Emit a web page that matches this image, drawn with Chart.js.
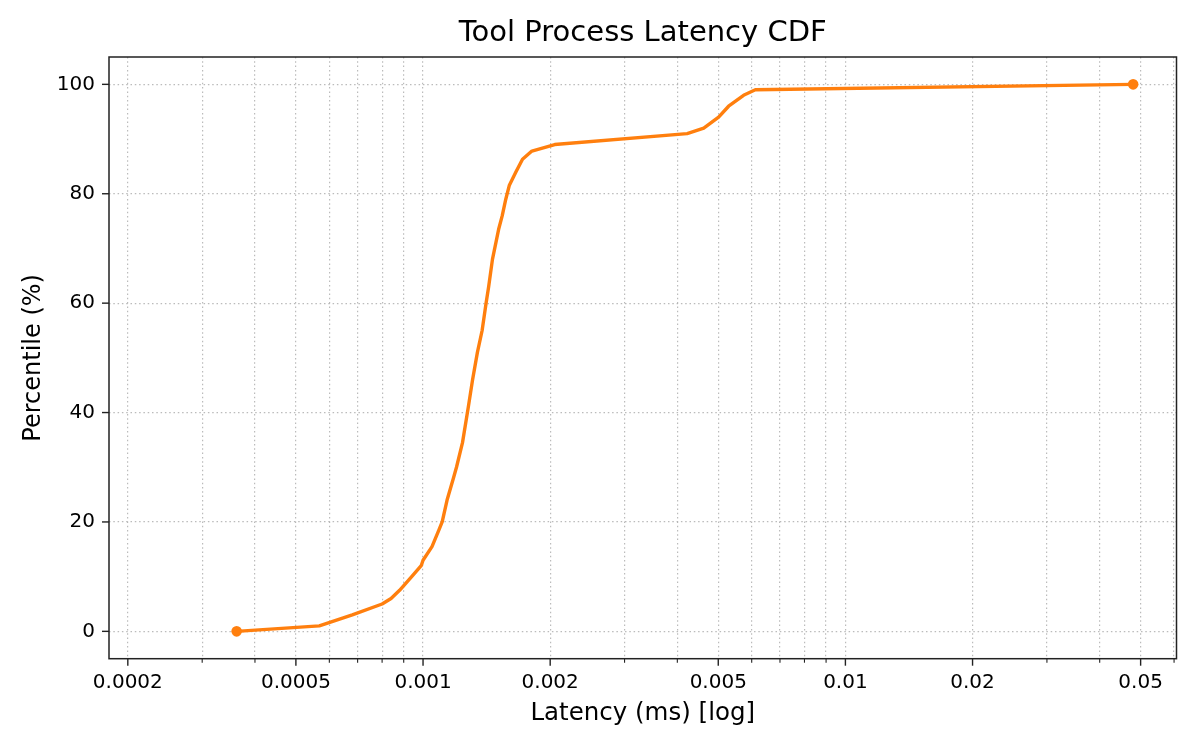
<!DOCTYPE html>
<html>
<head>
<meta charset="utf-8">
<title>Tool Process Latency CDF</title>
<script src="https://cdn.jsdelivr.net/npm/chart.js@4/dist/chart.umd.min.js"></script>
<style>
    html, body { margin: 0; padding: 0; background: #fff; }
    #wrap { width: 1200px; height: 750px; position: relative; }
</style>
</head>
<body>
<div id="wrap"><canvas id="cdfChart"></canvas></div>
<script>
const latencyMs = [
    0.000362, 0.000568, 0.00068, 0.0008, 0.00084, 0.00088, 0.00094, 0.00099,
    0.001, 0.00105, 0.00109, 0.00111, 0.00114, 0.00118, 0.0012, 0.00124,
    0.00128, 0.00131, 0.001345, 0.00138, 0.00141, 0.00143, 0.00146, 0.00151,
    0.00154, 0.00157, 0.0016, 0.00166, 0.00172, 0.00181, 0.00205, 0.00422,
    0.00462, 0.00501, 0.00529, 0.00574, 0.00612, 0.048
];
const percentile = [
    0, 1, 3, 5, 6, 7.5, 10, 12,
    13, 15.5, 18.5, 20, 24, 28, 30, 34.5,
    41, 46, 51, 55, 60, 63, 68, 73.5,
    76, 79, 81.5, 84, 86.3, 87.8, 89, 91,
    92, 94, 96, 98, 99, 100
];

// axis ticks
const xTickLabels = ['0.0002', '0.0005', '0.001', '0.002', '0.005', '0.01', '0.02', '0.05'];
const xMinorMultiples = [1, 2, 3, 4, 5, 6, 7, 8, 9];
const xDecades = [0.0001, 0.001, 0.01];
const yTickValues = [0, 20, 40, 60, 80, 100];

const FONT = '"DejaVu Sans", "Liberation Sans", sans-serif';
const ORANGE = '#ff7f0e';
const GRID = 'rgba(170,170,170,0.8)';
const SPINE = '#222222';

const majorValues = xTickLabels.map(s => parseFloat(s));

function isMajor(v) {
    return majorValues.some(m => Math.abs(m - v) / m < 1e-6);
}

function labelFor(v) {
    const i = majorValues.findIndex(m => Math.abs(m - v) / m < 1e-6);
    return i >= 0 ? xTickLabels[i] : '';
}

/**
 * frame + tick marks (major longer than minor), drawn on top like matplotlib spines
 */
const framePlugin = {
    id: 'frame',
    afterDraw(chart) {
        const ctx = chart.ctx;
        const a = chart.chartArea;
        const xs = chart.scales.x;
        const ys = chart.scales.y;
        ctx.save();
        ctx.strokeStyle = SPINE;

        // tick marks on x
        xs.ticks.forEach(t => {
            const px = xs.getPixelForValue(t.value);
            const major = isMajor(t.value);
            ctx.lineWidth = major ? 1.4 : 1.1;
            ctx.beginPath();
            ctx.moveTo(px, a.bottom);
            ctx.lineTo(px, a.bottom + (major ? 7 : 4));
            ctx.stroke();
        });
        // tick marks on y
        ctx.lineWidth = 1.4;
        ys.ticks.forEach(t => {
            const py = ys.getPixelForValue(t.value);
            ctx.beginPath();
            ctx.moveTo(a.left, py);
            ctx.lineTo(a.left - 7, py);
            ctx.stroke();
        });

        // full box
        ctx.lineWidth = 1.5;
        ctx.strokeRect(a.left, a.top, a.right - a.left, a.bottom - a.top);
        ctx.restore();
    }
};

(function() {
    const points = latencyMs.map((x, i) => ({ x: x, y: percentile[i] }));
    const lastIndex = points.length - 1;

    const ctx = document.getElementById('cdfChart').getContext('2d');
    new Chart(ctx, {
        type: 'line',
        data: {
            datasets: [{
                label: 'CDF',
                data: points,
                borderColor: ORANGE,
                backgroundColor: ORANGE,
                borderWidth: 3.4,
                tension: 0,
                borderJoinStyle: 'round',
                borderCapStyle: 'round',
                pointRadius: c => (c.dataIndex === 0 || c.dataIndex === lastIndex) ? 5.3 : 0,
                pointBackgroundColor: ORANGE,
                pointBorderWidth: 0,
                pointHoverRadius: 0
            }]
        },
        options: {
            responsive: true,
            maintainAspectRatio: false,
            animation: false,
            devicePixelRatio: 1,
            layout: { padding: { left: 0, right: 23.5, top: 0, bottom: 0 } },
            plugins: {
                legend: { display: false },
                tooltip: { enabled: false },
                title: {
                    display: true,
                    fullSize: false,
                    text: 'Tool Process Latency CDF',
                    color: '#000',
                    font: { family: FONT, size: 29, weight: 'normal' },
                    padding: { top: 16, bottom: 6.2 }
                }
            },
            scales: {
                x: {
                    type: 'logarithmic',
                    min: 0.0001805,
                    max: 0.0608,
                    afterFit: s => { s.height = 91.3; },
                    afterBuildTicks: s => {
                        const ticks = [];
                        xDecades.forEach(d => {
                            xMinorMultiples.forEach(m => {
                                const v = parseFloat((m * d).toPrecision(6));
                                if (v >= s.min && v <= s.max) ticks.push({ value: v, major: isMajor(v) });
                            });
                        });
                        s.ticks = ticks;
                    },
                    ticks: {
                        autoSkip: false,
                        maxRotation: 0,
                        minRotation: 0,
                        padding: 12,
                        color: '#000',
                        font: { family: FONT, size: 20 },
                        callback: v => labelFor(v)
                    },
                    grid: {
                        drawTicks: false,
                        color: GRID,
                        lineWidth: 1.2
                    },
                    border: { display: false, dash: [1.5, 2.8] },
                    title: {
                        display: true,
                        text: 'Latency (ms) [log]',
                        color: '#000',
                        font: { family: FONT, size: 24.5 },
                        padding: { top: 0, bottom: 21.5 }
                    }
                },
                y: {
                    type: 'linear',
                    min: -5,
                    max: 105,
                    afterFit: s => { s.width = 109; },
                    afterBuildTicks: s => {
                        s.ticks = yTickValues.map(v => ({ value: v }));
                    },
                    ticks: {
                        padding: 14,
                        color: '#000',
                        font: { family: FONT, size: 20 }
                    },
                    grid: {
                        drawTicks: false,
                        color: GRID,
                        lineWidth: 1.2
                    },
                    border: { display: false, dash: [1.5, 2.8] },
                    title: {
                        display: true,
                        text: 'Percentile (%)',
                        color: '#000',
                        font: { family: FONT, size: 24 },
                        padding: { top: 19.5, bottom: 0 }
                    }
                }
            }
        },
        plugins: [framePlugin]
    });
})();
</script>
</body>
</html>
